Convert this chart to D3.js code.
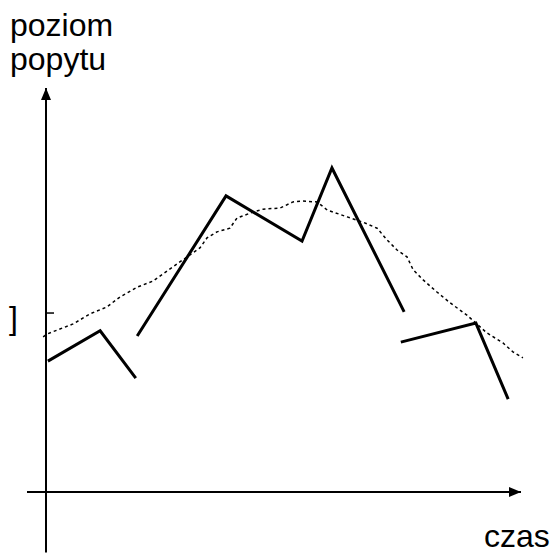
<!DOCTYPE html>
<html>
<head>
<meta charset="utf-8">
<script src="https://cdn.jsdelivr.net/npm/d3@7"></script>
<style>
  body { margin: 0; background: #fff; }
  text { font-family: "Liberation Sans", Arial, sans-serif; fill: #000; }
</style>
</head>
<body>
<div id="chart"></div>
<script>
// demand over time: broken solid segments + dotted trend
var segment_1 = [ [0.4, 32.4], [11.4, 39.9], [18.9, 28.2] ];
var segment_2 = [ [19.2, 38.6], [37.9, 73.3], [53.9, 62.1], [60.2, 80.2], [75.4, 44.6] ];
var segment_3 = [ [74.7, 37.1], [90.5, 41.8], [97.3, 23.0] ];
var segments = [ segment_1, segment_2, segment_3 ];

var trend_t = [ -0.6, 0.2, 5.7, 9.3, 12.8, 15.6, 19.2, 22.5, 26.7, 29.7, 32.4, 33.9, 36.0, 38.7,
    40.2, 43.6, 45.7, 49.3, 52.0, 54.1, 57.1, 59.2, 63.4, 66.7, 69.7, 71.8, 73.9, 76.0,
    77.3, 79.4, 82.3, 85.1, 88.6, 92.8, 96.2, 98.3, 100.4 ];
var trend_v = [ 38.4, 39.1, 41.6, 44.1, 45.8, 48.3, 50.7, 52.2, 55.7, 58.2, 60.4, 62.9, 64.4, 65.3,
    67.8, 69.3, 70.0, 70.3, 71.8, 72.0, 71.8, 69.8, 68.1, 66.8, 65.3, 62.4, 59.9, 58.2,
    55.0, 52.5, 49.5, 46.8, 43.8, 39.4, 36.9, 34.7, 33.2 ];

var y_ticks = [ 44.3 ];
var y_tick_labels = [ "]" ];
var y_title = [ "poziom", "popytu" ];
var x_title = "czas";

var width = 551, height = 553;

var x = d3.scaleLinear().domain([0, 100]).range([46, 521]);
var y = d3.scaleLinear().domain([0, 100]).range([492, 88]);

var svg = d3.select("#chart").append("svg")
    .attr("width", width)
    .attr("height", height);

var defs = svg.append("defs");
defs.append("marker")
    .attr("id", "arrow")
    .attr("viewBox", "0 0 12 10")
    .attr("refX", 12)
    .attr("refY", 5)
    .attr("markerWidth", 12)
    .attr("markerHeight", 10)
    .attr("markerUnits", "userSpaceOnUse")
    .attr("orient", "auto")
    .append("path")
    .attr("d", "M0,0 L12,5 L0,10 Z")
    .attr("fill", "#000");

// axes
svg.append("line")
    .attr("x1", x(-4)).attr("x2", x(100))
    .attr("y1", y(0)).attr("y2", y(0))
    .attr("stroke", "#000").attr("stroke-width", 2)
    .attr("marker-end", "url(#arrow)");

svg.append("line")
    .attr("x1", x(0)).attr("x2", x(0))
    .attr("y1", y(-15)).attr("y2", y(100))
    .attr("stroke", "#000").attr("stroke-width", 2)
    .attr("marker-end", "url(#arrow)");

// y ticks
svg.selectAll(".ytick")
    .data(y_ticks)
    .enter().append("line")
    .attr("x1", x(0)).attr("x2", x(0) + 8)
    .attr("y1", function(d) { return y(d); })
    .attr("y2", function(d) { return y(d); })
    .attr("stroke", "#000").attr("stroke-width", 1.5);

svg.selectAll(".ylabel")
    .data(y_ticks)
    .enter().append("text")
    .attr("x", 9)
    .attr("y", function(d) { return y(d) + 16; })
    .style("font-size", "32px")
    .text(function(d, i) { return y_tick_labels[i]; });

// dotted trend
var line = d3.line()
    .x(function(d) { return x(d[0]); })
    .y(function(d) { return y(d[1]); });

svg.append("path")
    .datum(trend_t.map(function(t, i) { return [t, trend_v[i]]; }))
    .attr("d", line)
    .attr("fill", "none")
    .attr("stroke", "#000")
    .attr("stroke-width", 1.5)
    .attr("stroke-dasharray", "3,3");

// solid segments
svg.selectAll(".seg")
    .data(segments)
    .enter().append("path")
    .attr("d", line)
    .attr("fill", "none")
    .attr("stroke", "#000")
    .attr("stroke-width", 3)
    .attr("stroke-linejoin", "miter");

// titles
svg.selectAll(".ytitle")
    .data(y_title)
    .enter().append("text")
    .attr("x", 10)
    .attr("y", function(d, i) { return 36 + i * 34; })
    .style("font-size", "32px")
    .text(function(d) { return d; });

svg.append("text")
    .attr("x", 484)
    .attr("y", 547)
    .style("font-size", "32px")
    .text(x_title);
</script>
</body>
</html>
